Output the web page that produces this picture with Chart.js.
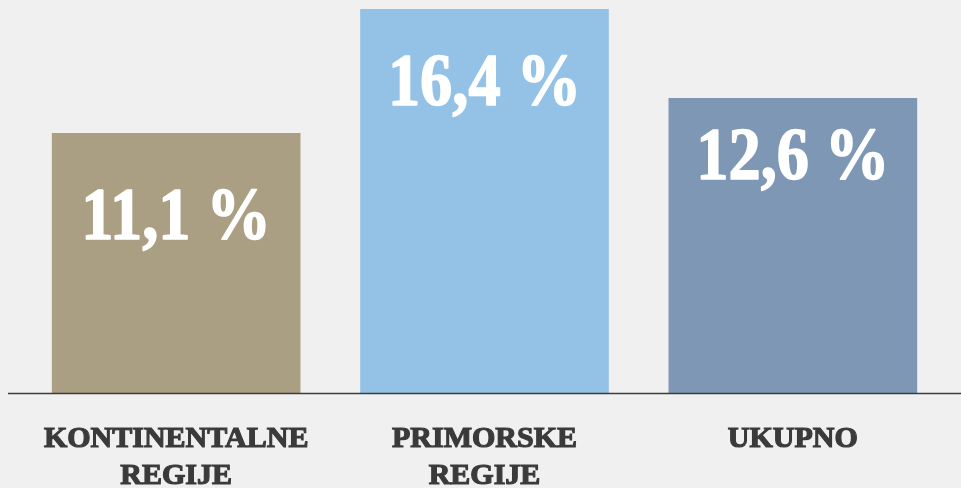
<!DOCTYPE html>
<html>
<head>
<meta charset="utf-8">
<script src="https://cdn.jsdelivr.net/npm/chart.js@4.4.1/dist/chart.umd.min.js"></script>
<style>
  html, body { margin: 0; padding: 0; background: #f0f0f0; }
  #okvir { width: 961px; height: 488px; }
</style>
</head>
<body>
<div id="okvir"><canvas id="grafikonRegije" width="961" height="488"></canvas></div>
<script>
// podaci
const kategorije = [['KONTINENTALNE', 'REGIJE'], ['PRIMORSKE', 'REGIJE'], 'UKUPNO'];
const postoci = [11.1, 16.4, 12.6];
const oznake = ['11,1 %', '16,4 %', '12,6 %'];

// stil
const boje = ['#ab9f83', '#93c2e6', '#7d97b5'];
const pomakOznake = [106, 96, 81]; // od vrha stupca do osnovne linije teksta

const oznakeNaStupcima = {
    id: 'oznakeNaStupcima',
    afterDatasetsDraw(chart) {
        const ctx = chart.ctx;
        const meta = chart.getDatasetMeta(0);
        ctx.save();
        ctx.fillStyle = '#ffffff';
        ctx.strokeStyle = '#ffffff';
        ctx.lineWidth = 1.6;
        ctx.lineJoin = 'round';
        ctx.font = 'bold 74px "Liberation Serif"';
        ctx.textAlign = 'center';
        ctx.textBaseline = 'alphabetic';
        meta.data.forEach((stupac, i) => {
            ctx.save();
            ctx.translate(stupac.x, stupac.y + pomakOznake[i]);
            ctx.scale(0.87, 1);
            ctx.fillText(oznake[i], 0, 0);
            ctx.strokeText(oznake[i], 0, 0);
            ctx.restore();
        });

        // osnovna linija preko cijele širine
        const a = chart.chartArea;
        ctx.strokeStyle = '#3c3c3c';
        ctx.lineWidth = 1.5;
        ctx.beginPath();
        ctx.moveTo(8, a.bottom + 0.5);
        ctx.lineTo(chart.width, a.bottom + 0.5);
        ctx.stroke();
        ctx.restore();
    }
};

const ctx = document.getElementById('grafikonRegije').getContext('2d');

new Chart(ctx, {
    type: 'bar',
    data: {
        labels: kategorije,
        datasets: [{
            data: postoci,
            backgroundColor: boje,
            borderWidth: 0,
            barThickness: 248
        }]
    },
    options: {
        responsive: false,
        animation: false,
        layout: { padding: { left: 22, right: 14, top: 0, bottom: 0 } },
        plugins: {
            legend: { display: false },
            tooltip: { enabled: false }
        },
        scales: {
            x: {
                grid: { display: false, drawTicks: false },
                border: { display: false },
                afterFit: (scale) => { scale.height = 95; },
                ticks: {
                    padding: 27,
                    color: '#3a3a3a',
                    textStrokeColor: '#3a3a3a',
                    textStrokeWidth: 1.2,
                    maxRotation: 0,
                    font: { family: '"Liberation Serif"', weight: 'bold', size: 30, lineHeight: 1.25 }
                }
            },
            y: {
                display: false,
                min: 0,
                max: 16.8
            }
        }
    },
    plugins: [oznakeNaStupcima]
});
</script>
</body>
</html>
